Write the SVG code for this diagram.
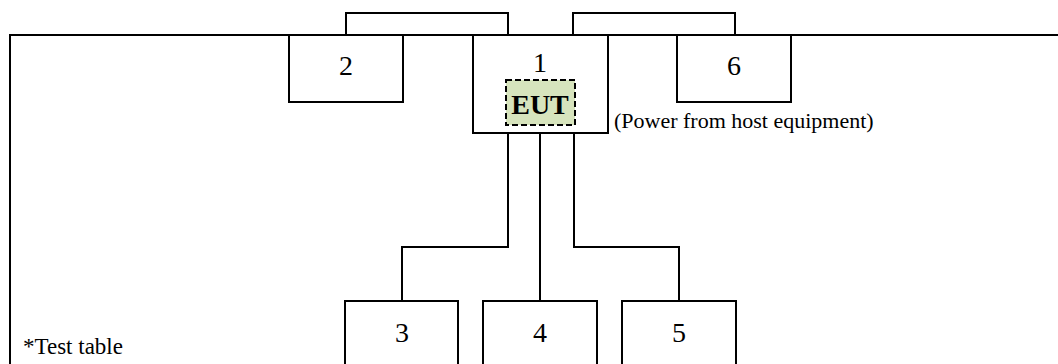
<svg xmlns="http://www.w3.org/2000/svg" width="1058" height="364" viewBox="0 0 1058 364">
<style>
.ln{fill:none;stroke:#000;stroke-width:2}
.bx{fill:#fff;stroke:#000;stroke-width:2}
.num{font-family:"Liberation Serif","Times New Roman",serif;font-size:28px;text-anchor:middle;fill:#000}
.sm{font-family:"Liberation Serif","Times New Roman",serif;font-size:22px;fill:#000}
</style>
<rect width="1058" height="364" fill="#fff"/>
<g id="table">
<path class="ln" d="M10,365 V35 H1058"/>
<text class="sm" x="23" y="354" style="font-size:23px">*Test table</text>
</g>
<g id="connectors">
<path class="ln" d="M346,35 V13 H508 V35"/>
<path class="ln" d="M573,35 V13 H735 V35"/>
<path class="ln" d="M508,133 V247 H402 V301"/>
<path class="ln" d="M540,133 V301"/>
<path class="ln" d="M574,133 V247 H679 V301"/>
</g>
<g id="node2">
<rect class="bx" x="289" y="35" width="114" height="67"/>
<text class="num" x="346" y="75">2</text>
</g>
<g id="node1">
<rect class="bx" x="473" y="35" width="135" height="98"/>
<text class="num" x="540" y="72">1</text>
<rect x="506" y="80" width="69" height="45" fill="#d7e4bd" stroke="#000" stroke-width="2" stroke-dasharray="6,3"/>
<text class="num" x="540" y="114" style="font-weight:bold">EUT</text>
</g>
<g id="node6">
<rect class="bx" x="677" y="35" width="114" height="67"/>
<text class="num" x="734" y="75">6</text>
</g>
<text class="sm" x="614" y="128">(Power from host equipment)</text>
<g id="node3">
<rect class="bx" x="345" y="301" width="113" height="70"/>
<text class="num" x="402" y="342">3</text>
</g>
<g id="node4">
<rect class="bx" x="483" y="301" width="114" height="70"/>
<text class="num" x="540" y="342">4</text>
</g>
<g id="node5">
<rect class="bx" x="622" y="301" width="114" height="70"/>
<text class="num" x="679" y="342">5</text>
</g>
</svg>
